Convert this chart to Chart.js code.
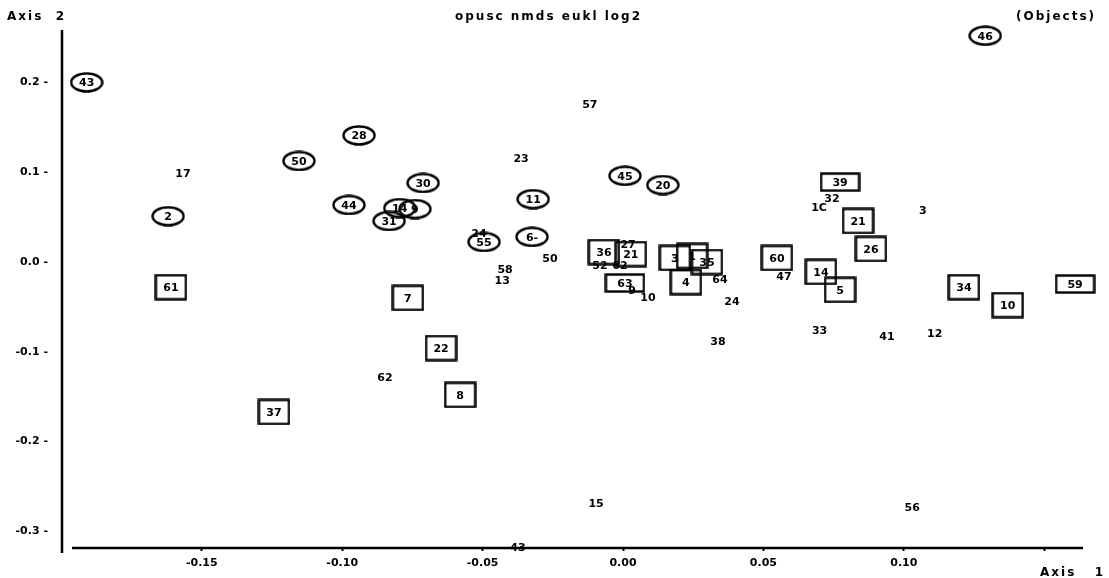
<!DOCTYPE html>
<html>
<head>
<meta charset="utf-8">
<script src="https://cdn.jsdelivr.net/npm/chart.js@4.4.0/dist/chart.umd.min.js"></script>
<style>
html,body{margin:0;padding:0;background:#fff;}
#wrap{width:1109px;height:578px;}
</style>
</head>
<body>
<div id="wrap"><canvas id="c" width="1109" height="578"></canvas></div>
<script>
// ---- data ----
const xTicks = [-0.15, -0.10, -0.05, 0.00, 0.05, 0.10, 0.15];
const xTickLabels = ['-0.15', '-0.10', '-0.05', '0.00', '0.05', '0.10', ''];
const yTicks = [0.2, 0.1, 0.0, -0.1, -0.2, -0.3];
const yTickLabels = ['0.2 -', '0.1 -', '0.0 -', '-0.1 -', '-0.2 -', '-0.3 -'];

const circleLabels = ['43','46','28','50','2','44','30','31','14','9','11','6-','55','45','20'];
const circleX = [-0.191, 0.129, -0.094, -0.1154, -0.162, -0.0976, -0.0712, -0.0833, -0.0795, -0.0741, -0.032, -0.0324, -0.0495, 0.0007, 0.0142];
const circleY = [0.200, 0.252, 0.141, 0.1125, 0.051, 0.0635, 0.088, 0.0457, 0.060, 0.059, 0.070, 0.028, 0.0223, 0.096, 0.0857];

const boxLabels = ['61','7','22','8','37','60','21','26','14','5','34','10','3','1','35','4','36','21'];
const boxX = [-0.161, -0.0766, -0.0648, -0.058, -0.1243, 0.0548, 0.0837, 0.0883, 0.0705, 0.0773, 0.1214, 0.137, 0.0185, 0.0246, 0.0299, 0.0224, -0.0068, 0.0028];
const boxY = [-0.028, -0.040, -0.0958, -0.148, -0.167, 0.0045, 0.0457, 0.0145, -0.011, -0.031, -0.028, -0.048, 0.0045, 0.0067, 0.0, -0.0223, 0.0111, 0.0089];

const wideLabels = ['39','59','63'];
const wideX = [0.0773, 0.161, 0.0007];
const wideY = [0.089, -0.0245, -0.0234];

const textLabels = ['17','57','23','24','58','13','50','62','15','43','56','10','9','52','62','27','64','24','38','47','33','41','12','3','1C','32'];
const textX = [-0.1567, -0.0118, -0.0363, -0.0513, -0.042, -0.043, -0.026, -0.0848, -0.0096, -0.0374, 0.103, 0.0089, 0.0032, -0.0082, -0.0011, 0.0018, 0.0345, 0.0388, 0.0338, 0.0573, 0.070, 0.094, 0.111, 0.1068, 0.0698, 0.0744];
const textY = [0.099, 0.176, 0.116, 0.0323, -0.008, -0.020, 0.0045, -0.128, -0.268, -0.318, -0.273, -0.039, -0.031, -0.0034, -0.0034, 0.020, -0.019, -0.0434, -0.088, -0.016, -0.0757, -0.0824, -0.079, 0.058, 0.0612, 0.0713];

// ---- marker images ----
function makeEllipse(w, h){
  const c = document.createElement('canvas'); c.width = w; c.height = h;
  const g = c.getContext('2d');
  g.strokeStyle = '#000'; g.lineWidth = 2.4;
  g.beginPath(); g.ellipse(w/2, h/2, w/2 - 1.5, h/2 - 1.5, 0, 0, Math.PI*2); g.stroke();
  return c;
}
function makeBox(w, h){
  const c = document.createElement('canvas'); c.width = w; c.height = h;
  const g = c.getContext('2d');
  g.strokeStyle = '#000'; g.lineWidth = 2.4;
  g.strokeRect(1.5, 1.5, w - 3, h - 3);
  return c;
}
const ellipseImg = makeEllipse(34, 21);
const boxImg = makeBox(33, 27);
const wideImg = makeBox(41, 20);

function pts(xs, ys){ return xs.map((x, i) => ({x: x, y: ys[i]})); }

const LABEL_FONT = 'bold 11px "DejaVu Sans"';

const labelPlugin = {
  id: 'labels',
  beforeDatasetsDraw(chart){
    const ctx = chart.ctx, a = chart.chartArea;
    ctx.save();
    ctx.strokeStyle = '#000';
    ctx.lineWidth = 2.5;
    ctx.beginPath();
    ctx.moveTo(a.left, a.top);
    ctx.lineTo(a.left, a.bottom + 5);
    ctx.moveTo(a.left + 10, a.bottom);
    ctx.lineTo(a.right, a.bottom);
    ctx.stroke();
    ctx.restore();
  },
  afterDatasetsDraw(chart){
    const ctx = chart.ctx;
    ctx.save();
    ctx.fillStyle = '#000';
    ctx.font = LABEL_FONT;
    ctx.textAlign = 'center';
    ctx.textBaseline = 'middle';
    chart.data.datasets.forEach((ds, i) => {
      const meta = chart.getDatasetMeta(i);
      meta.data.forEach((el, j) => {
        ctx.fillText(ds.labels[j], el.x, el.y + 1);
      });
    });
    ctx.restore();
  },
  afterDraw(chart){
    const ctx = chart.ctx;
    ctx.save();
    ctx.fillStyle = '#000';
    ctx.font = 'bold 12px "DejaVu Sans"';
    ctx.textBaseline = 'middle';
    try { ctx.letterSpacing = '2px'; } catch (e) {}
    ctx.textAlign = 'left';
    ctx.fillText('Axis  2', 7, 17);
    ctx.fillText('opusc nmds eukl log2', 455, 17);
    ctx.fillText('(Objects)', 1016, 17);
    ctx.fillText('Axis   1', 1040, 573);
    ctx.restore();
  }
};

const common = {showLine: false, clip: false, pointHoverRadius: 0};

new Chart(document.getElementById('c'), {
  type: 'scatter',
  data: {
    datasets: [
      Object.assign({labels: circleLabels, data: pts(circleX, circleY), pointStyle: ellipseImg, pointRadius: 25}, common),
      Object.assign({labels: boxLabels, data: pts(boxX, boxY), pointStyle: boxImg, pointRadius: 25}, common),
      Object.assign({labels: wideLabels, data: pts(wideX, wideY), pointStyle: wideImg, pointRadius: 25}, common),
      Object.assign({labels: textLabels, data: pts(textX, textY), pointRadius: 0}, common)
    ]
  },
  options: {
    responsive: false,
    animation: false,
    devicePixelRatio: 1,
    events: [],
    layout: {padding: {top: 30, right: 26, left: 0, bottom: 0}},
    plugins: {legend: {display: false}, tooltip: {enabled: false}, title: {display: false}},
    scales: {
      x: {
        type: 'linear',
        min: (62 - 623) / 2808,
        max: (1083 - 623) / 2808,
        afterBuildTicks(s){ s.ticks = xTicks.map(v => ({value: v})); },
        afterFit(s){ s.height = 30; },
        grid: {display: true, drawOnChartArea: false, drawTicks: true, tickLength: 3, color: '#000', tickWidth: 2},
        border: {display: false},
        ticks: {
          autoSkip: false, maxRotation: 0, padding: 6, color: '#000',
          font: {family: 'DejaVu Sans', size: 11, weight: 'bold'},
          callback(v, i){ return xTickLabels[i]; }
        }
      },
      y: {
        type: 'linear',
        min: (262 - 548) / 898,
        max: (262 - 30) / 898,
        afterBuildTicks(s){ s.ticks = yTicks.map(v => ({value: v})); },
        afterFit(s){ s.width = 62; },
        grid: {display: false},
        border: {display: false},
        ticks: {
          autoSkip: false, padding: 6, color: '#000',
          font: {family: 'DejaVu Sans', size: 11, weight: 'bold'},
          callback(v, i){ return yTickLabels[i]; }
        }
      }
    }
  },
  plugins: [labelPlugin]
});
</script>
</body>
</html>
